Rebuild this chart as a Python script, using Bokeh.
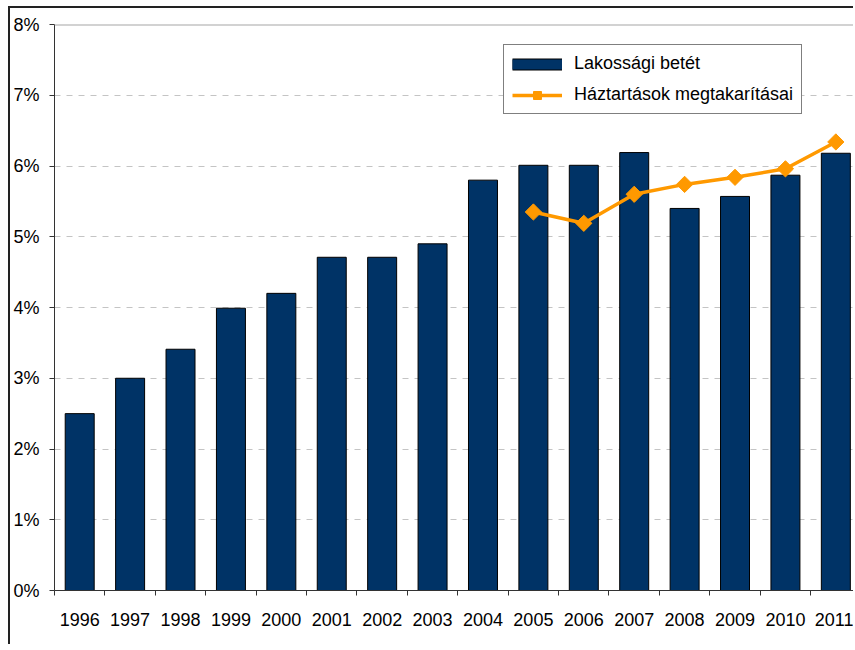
from bokeh.plotting import figure
from bokeh.models import (ColumnDataSource, Range1d, FixedTicker, PrintfTickFormatter,
                          Span, Legend, LegendItem)
from bokeh.embed import file_html
from bokeh.resources import INLINE
import math

years = ["1996", "1997", "1998", "1999", "2000", "2001", "2002", "2003",
         "2004", "2005", "2006", "2007", "2008", "2009", "2010", "2011"]
deposit = [2.50, 3.00, 3.41, 3.99, 4.20, 4.71, 4.71, 4.90,
           5.80, 6.01, 6.01, 6.19, 5.40, 5.57, 5.87, 6.18]
savings_years = ["2005", "2006", "2007", "2008", "2009", "2010", "2011"]
savings = [5.35, 5.19, 5.60, 5.74, 5.84, 5.96, 6.34]
y_ticks = [0, 1, 2, 3, 4, 5, 6, 7, 8]

NAVY = "#003366"
ORANGE = "#FF9900"
FONT = "Liberation Sans"
NAN = float("nan")

xs = list(range(len(years)))
bar_src = ColumnDataSource(dict(x=xs, y=deposit))
line_src = ColumnDataSource(dict(x=[years.index(y) for y in savings_years], y=savings))

p = figure(width=845, height=638, output_backend="svg", toolbar_location=None,
           x_range=Range1d(-0.5, 15.39), y_range=Range1d(0, 8),
           min_border_left=44, min_border_top=16, min_border_bottom=56, min_border_right=0)
p.styles = {"border-left": "2px solid #222222", "border-top": "2px solid #222222",
            "margin-left": "8px", "margin-top": "6px"}
p.outline_line_color = None
p.background_fill_color = "white"
p.border_fill_color = "white"

# grid
p.xgrid.visible = False
p.ygrid.ticker = FixedTicker(ticks=y_ticks)
p.ygrid.grid_line_color = "#c4c4c4"
p.ygrid.grid_line_dash = "6 6"
p.ygrid.grid_line_width = 1
p.add_layout(Span(location=8, dimension="width", line_color="#a6a6a6", line_width=2))

# bars
p.vbar(x="x", top="y", width=0.575, source=bar_src, fill_color=NAVY,
       line_color="black", line_width=1)

# line
p.line(x="x", y="y", source=line_src, line_color=ORANGE, line_width=3.5)
p.scatter(x="x", y="y", source=line_src, marker="square", size=11.5, angle=math.pi / 4,
          fill_color=ORANGE, line_color=ORANGE)

# axes
xa = p.xaxis[0]
xa.ticker = FixedTicker(ticks=xs, minor_ticks=[i - 0.5 for i in range(len(years) + 1)])
xa.major_label_overrides = {i: y for i, y in enumerate(years)}
xa.major_tick_line_color = None
xa.major_tick_out = 0
xa.major_tick_in = 0
xa.minor_tick_line_color = "#333333"
xa.minor_tick_out = 5
xa.minor_tick_in = 0
xa.axis_line_color = "#333333"
xa.major_label_text_font = FONT
xa.major_label_text_font_size = "18px"
xa.major_label_text_color = "black"
xa.major_label_standoff = 17

ya = p.yaxis[0]
ya.ticker = FixedTicker(ticks=y_ticks)
ya.formatter = PrintfTickFormatter(format="%d%%")
ya.major_tick_line_color = "#333333"
ya.major_tick_out = 5
ya.major_tick_in = 0
ya.minor_tick_line_color = None
ya.axis_line_color = "#333333"
ya.major_label_text_font = FONT
ya.major_label_text_font_size = "18px"
ya.major_label_text_color = "black"
ya.major_label_standoff = 10

# legend proxies (not visible in the plot)
lb1 = p.line(x=[NAN], y=[NAN], line_color="black", line_width=12)
lb2 = p.line(x=[NAN], y=[NAN], line_color=NAVY, line_width=10)
ll = p.line(x=[NAN], y=[NAN], line_color=ORANGE, line_width=3.5)
lm = p.scatter(x=[NAN], y=[NAN], marker="square", size=10, angle=math.pi / 4,
               fill_color=ORANGE, line_color=ORANGE)

legend = Legend(items=[LegendItem(label="Lakossági betét", renderers=[lb1, lb2]),
                       LegendItem(label="Háztartások megtakarításai", renderers=[ll, lm])],
                location=(449, 476))
legend.glyph_width = 50
legend.glyph_height = 20
legend.label_height = 20
legend.label_standoff = 12
legend.spacing = 10
legend.padding = 8
legend.margin = 0
legend.border_line_color = "black"
legend.border_line_width = 1
legend.background_fill_color = "white"
legend.background_fill_alpha = 1
legend.label_text_font = FONT
legend.label_text_font_size = "18px"
legend.label_text_color = "black"
p.add_layout(legend, "center")

open("out.html", "w").write(file_html(p, INLINE))
